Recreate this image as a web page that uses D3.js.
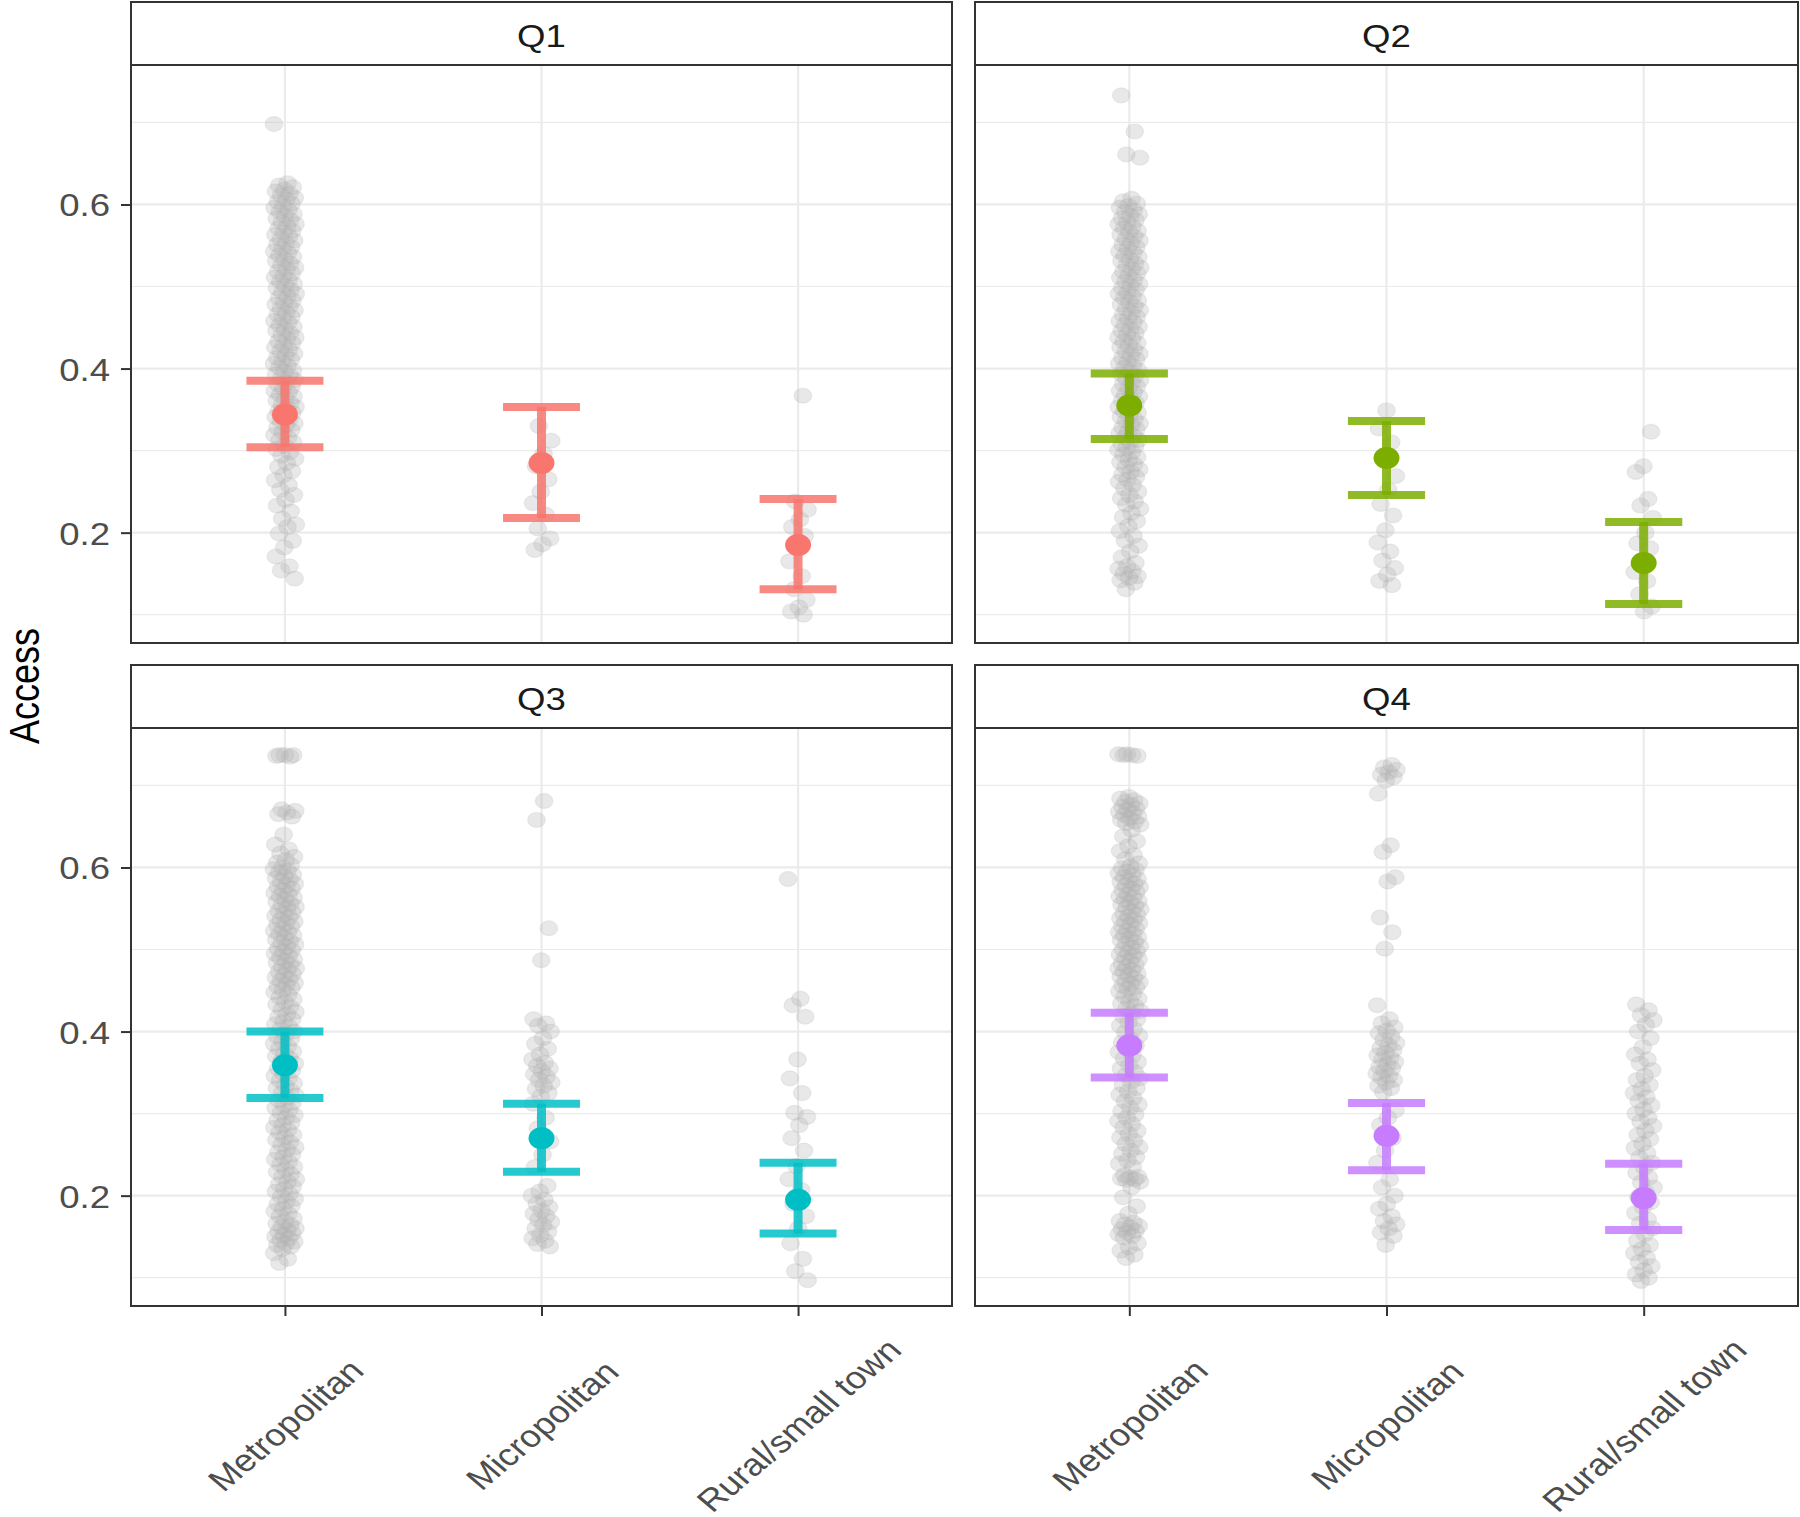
<!DOCTYPE html>
<html><head><meta charset="utf-8">
<script src="https://cdn.jsdelivr.net/npm/d3@7"></script>
<style>body{margin:0;background:#fff} svg{display:block}</style>
</head><body>
<script>
// ---------- data ----------
const facets = ["Q1", "Q2", "Q3", "Q4"];
const categories = ["Metropolitan", "Micropolitan", "Rural/small town"];
const facetColors = ["#F8766D", "#7CAE00", "#00BFC4", "#C77CFF"];
const yTickValues = [0.2, 0.4, 0.6];
const yMinorValues = [0.1, 0.3, 0.5, 0.7];
const yTickLabels = ["0.2", "0.4", "0.6"];
const yAxisTitle = "Access";

// mean and interval per facet (Metropolitan, Micropolitan, Rural/small town)
const meanQ1 = [0.344, 0.285, 0.185], lowerQ1 = [0.304, 0.218, 0.131], upperQ1 = [0.385, 0.353, 0.241];
const meanQ2 = [0.355, 0.291, 0.163], lowerQ2 = [0.314, 0.246, 0.113], upperQ2 = [0.394, 0.336, 0.213];
const meanQ3 = [0.359, 0.270, 0.195], lowerQ3 = [0.319, 0.229, 0.154], upperQ3 = [0.400, 0.312, 0.240];
const meanQ4 = [0.383, 0.273, 0.197], lowerQ4 = [0.344, 0.231, 0.158], upperQ4 = [0.423, 0.313, 0.239];

// raw observations (grey points)
const q1Metro = [0.698,0.626,0.623,0.621,0.618,0.616,0.613,0.611,0.608,0.606,0.603,0.601,0.598,0.596,0.593,0.591,0.588,0.586,0.583,0.581,0.578,0.576,0.573,0.571,0.568,0.566,0.563,0.561,0.558,0.556,0.553,0.551,0.548,0.546,0.543,0.541,0.538,0.536,0.533,0.531,0.528,0.526,0.523,0.521,0.518,0.516,0.513,0.511,0.508,0.506,0.503,0.501,0.498,0.496,0.493,0.491,0.488,0.486,0.483,0.481,0.478,0.476,0.473,0.471,0.468,0.466,0.463,0.461,0.458,0.456,0.453,0.451,0.448,0.446,0.443,0.441,0.438,0.436,0.433,0.431,0.428,0.426,0.423,0.421,0.418,0.416,0.413,0.411,0.408,0.406,0.403,0.401,0.398,0.396,0.393,0.391,0.388,0.386,0.383,0.381,0.378,0.376,0.373,0.371,0.368,0.366,0.363,0.361,0.358,0.356,0.353,0.351,0.348,0.346,0.343,0.341,0.338,0.336,0.333,0.331,0.328,0.325,0.322,0.319,0.316,0.313,0.31,0.306,0.302,0.298,0.294,0.29,0.285,0.28,0.275,0.27,0.264,0.258,0.252,0.246,0.24,0.233,0.226,0.217,0.21,0.207,0.199,0.19,0.182,0.171,0.159,0.154,0.144];
const q1Micro = [0.33,0.312,0.296,0.281,0.265,0.25,0.236,0.222,0.205,0.193,0.186,0.179];
const q1Rural = [0.367,0.238,0.228,0.216,0.207,0.196,0.181,0.165,0.147,0.131,0.118,0.109,0.104,0.1];

const q2Metro = [0.733,0.689,0.661,0.657,0.607,0.604,0.601,0.598,0.596,0.593,0.591,0.588,0.586,0.583,0.581,0.578,0.576,0.573,0.571,0.568,0.566,0.563,0.561,0.558,0.556,0.553,0.551,0.548,0.546,0.543,0.541,0.538,0.536,0.533,0.531,0.528,0.526,0.523,0.521,0.518,0.516,0.513,0.511,0.508,0.506,0.503,0.501,0.498,0.496,0.493,0.491,0.488,0.486,0.483,0.481,0.478,0.476,0.473,0.471,0.468,0.466,0.463,0.461,0.458,0.456,0.453,0.451,0.448,0.446,0.443,0.441,0.438,0.436,0.433,0.431,0.428,0.426,0.423,0.421,0.418,0.416,0.413,0.411,0.408,0.406,0.403,0.401,0.398,0.396,0.393,0.391,0.388,0.386,0.383,0.381,0.378,0.376,0.373,0.371,0.368,0.366,0.363,0.361,0.358,0.356,0.353,0.351,0.348,0.346,0.343,0.341,0.338,0.336,0.333,0.331,0.328,0.326,0.323,0.321,0.318,0.316,0.313,0.311,0.308,0.306,0.303,0.301,0.298,0.295,0.292,0.289,0.286,0.283,0.28,0.277,0.274,0.271,0.268,0.265,0.262,0.258,0.254,0.25,0.246,0.242,0.238,0.234,0.229,0.224,0.219,0.214,0.208,0.202,0.196,0.19,0.184,0.177,0.17,0.163,0.159,0.156,0.153,0.15,0.147,0.145,0.142,0.139,0.131];
const q2Micro = [0.349,0.327,0.31,0.292,0.269,0.252,0.235,0.221,0.203,0.188,0.177,0.166,0.157,0.149,0.141,0.136];
const q2Rural = [0.323,0.281,0.274,0.241,0.233,0.218,0.2,0.187,0.181,0.165,0.152,0.141,0.125,0.11,0.104];

const q3Metro = [0.737,0.737,0.737,0.736,0.735,0.671,0.669,0.667,0.665,0.662,0.64,0.628,0.622,0.617,0.613,0.609,0.606,0.603,0.6,0.598,0.596,0.594,0.591,0.589,0.587,0.585,0.583,0.58,0.578,0.576,0.574,0.572,0.569,0.567,0.565,0.563,0.561,0.558,0.556,0.554,0.552,0.55,0.547,0.545,0.543,0.541,0.539,0.536,0.534,0.532,0.53,0.528,0.525,0.523,0.521,0.519,0.517,0.514,0.512,0.51,0.508,0.506,0.503,0.501,0.499,0.497,0.495,0.492,0.49,0.488,0.486,0.484,0.481,0.479,0.477,0.475,0.473,0.47,0.468,0.466,0.464,0.462,0.459,0.457,0.455,0.453,0.451,0.448,0.445,0.442,0.439,0.436,0.433,0.43,0.427,0.424,0.421,0.418,0.415,0.412,0.409,0.406,0.403,0.4,0.397,0.394,0.391,0.388,0.385,0.382,0.379,0.376,0.373,0.37,0.367,0.364,0.361,0.358,0.355,0.352,0.349,0.346,0.343,0.34,0.337,0.334,0.331,0.328,0.325,0.322,0.319,0.316,0.313,0.31,0.307,0.304,0.301,0.298,0.295,0.292,0.289,0.286,0.283,0.28,0.277,0.274,0.271,0.268,0.265,0.262,0.259,0.256,0.253,0.25,0.247,0.244,0.241,0.238,0.235,0.232,0.229,0.226,0.223,0.22,0.217,0.214,0.211,0.208,0.205,0.202,0.199,0.196,0.193,0.19,0.187,0.184,0.181,0.178,0.175,0.172,0.169,0.166,0.164,0.162,0.16,0.158,0.156,0.154,0.152,0.15,0.148,0.146,0.144,0.142,0.14,0.138,0.135,0.13,0.123,0.118];
const q3Micro = [0.681,0.658,0.526,0.487,0.415,0.41,0.407,0.4,0.392,0.385,0.379,0.372,0.366,0.362,0.358,0.355,0.352,0.348,0.345,0.341,0.338,0.334,0.33,0.325,0.321,0.312,0.295,0.282,0.266,0.25,0.235,0.212,0.205,0.2,0.195,0.19,0.186,0.182,0.178,0.175,0.171,0.168,0.164,0.16,0.156,0.152,0.148,0.145,0.141,0.138];
const q3Rural = [0.586,0.44,0.432,0.418,0.366,0.343,0.325,0.301,0.296,0.286,0.27,0.255,0.236,0.22,0.207,0.19,0.175,0.16,0.142,0.123,0.108,0.097];

const q4Metro = [0.738,0.738,0.737,0.737,0.736,0.686,0.684,0.682,0.68,0.678,0.676,0.674,0.672,0.67,0.668,0.666,0.664,0.662,0.66,0.658,0.656,0.654,0.652,0.646,0.638,0.632,0.626,0.62,0.615,0.61,0.605,0.601,0.599,0.597,0.595,0.593,0.591,0.588,0.586,0.584,0.582,0.58,0.578,0.576,0.574,0.572,0.57,0.567,0.565,0.563,0.561,0.559,0.557,0.555,0.553,0.551,0.549,0.546,0.544,0.542,0.54,0.538,0.536,0.534,0.532,0.53,0.528,0.525,0.523,0.521,0.519,0.517,0.515,0.513,0.511,0.509,0.507,0.504,0.502,0.5,0.498,0.496,0.494,0.492,0.49,0.488,0.486,0.483,0.481,0.479,0.477,0.475,0.473,0.471,0.469,0.467,0.465,0.462,0.46,0.458,0.456,0.454,0.452,0.449,0.446,0.443,0.44,0.437,0.434,0.431,0.428,0.425,0.422,0.419,0.415,0.411,0.407,0.403,0.399,0.395,0.391,0.387,0.383,0.379,0.375,0.371,0.367,0.363,0.359,0.355,0.351,0.347,0.343,0.339,0.335,0.331,0.327,0.323,0.319,0.315,0.311,0.307,0.303,0.299,0.295,0.291,0.287,0.283,0.279,0.275,0.271,0.267,0.263,0.259,0.255,0.251,0.247,0.243,0.239,0.235,0.225,0.223,0.222,0.221,0.22,0.219,0.217,0.21,0.198,0.187,0.178,0.169,0.167,0.165,0.163,0.161,0.159,0.157,0.155,0.153,0.151,0.149,0.142,0.137,0.133,0.128,0.124];
const q4Micro = [0.725,0.722,0.719,0.716,0.713,0.71,0.706,0.69,0.627,0.619,0.588,0.583,0.539,0.521,0.501,0.432,0.415,0.41,0.405,0.401,0.398,0.394,0.39,0.386,0.383,0.38,0.377,0.374,0.371,0.368,0.366,0.363,0.36,0.357,0.355,0.352,0.349,0.346,0.344,0.341,0.338,0.334,0.331,0.326,0.304,0.295,0.286,0.27,0.255,0.24,0.22,0.21,0.2,0.19,0.184,0.175,0.169,0.165,0.16,0.155,0.151,0.14];
const q4Rural = [0.433,0.426,0.42,0.414,0.408,0.4,0.392,0.381,0.372,0.366,0.361,0.353,0.346,0.341,0.335,0.33,0.325,0.32,0.315,0.31,0.305,0.3,0.295,0.29,0.285,0.279,0.274,0.269,0.263,0.258,0.252,0.246,0.24,0.234,0.228,0.222,0.216,0.21,0.204,0.198,0.192,0.186,0.179,0.171,0.166,0.16,0.153,0.145,0.14,0.135,0.13,0.124,0.119,0.114,0.109,0.104,0.1,0.096];

const pointsByFacet = [[q1Metro,q1Micro,q1Rural],[q2Metro,q2Micro,q2Rural],[q3Metro,q3Micro,q3Rural],[q4Metro,q4Micro,q4Rural]];
const meansByFacet = [meanQ1, meanQ2, meanQ3, meanQ4];
const lowerByFacet = [lowerQ1, lowerQ2, lowerQ3, lowerQ4];
const upperByFacet = [upperQ1, upperQ2, upperQ3, upperQ4];

// ---------- layout ----------
const SX = 1.18; // horizontal stretch of the original picture
const FONT = "'Liberation Sans', Arial, Helvetica, sans-serif";
const colX = [[131, 952], [975, 1798]];
const rowY = [{strip: [2, 65], panel: [65, 643]}, {strip: [665, 728], panel: [728, 1306]}];
const yDomain = [0.0655, 0.770];

const svg = d3.select("body").append("svg").attr("width", 1800).attr("height", 1517)
  .style("font-family", FONT);
svg.append("rect").attr("width", 1800).attr("height", 1517).attr("fill", "#fff");

facets.forEach((facet, k) => {
  const c = k % 2, r = Math.floor(k / 2);
  const [x0, x1] = colX[c];
  const [py0, py1] = rowY[r].panel;
  const [sy0, sy1] = rowY[r].strip;
  const x = d3.scalePoint().domain(categories).range([x0, x1]).padding(0.6);
  const y = d3.scaleLinear().domain(yDomain).range([py1, py0]);
  const step = x.step();
  const g = svg.append("g");

  // panel background
  g.append("rect").attr("x", x0).attr("y", py0).attr("width", x1 - x0).attr("height", py1 - py0).attr("fill", "#fff");

  // grid
  g.selectAll(".minor").data(yMinorValues).join("line")
    .attr("x1", x0).attr("x2", x1).attr("y1", d => y(d)).attr("y2", d => y(d))
    .attr("stroke", "#EBEBEB").attr("stroke-width", 1.2);
  g.selectAll(".major").data(yTickValues).join("line")
    .attr("x1", x0).attr("x2", x1).attr("y1", d => y(d)).attr("y2", d => y(d))
    .attr("stroke", "#EBEBEB").attr("stroke-width", 2.2);
  g.selectAll(".vmajor").data(categories).join("line")
    .attr("x1", d => x(d)).attr("x2", d => x(d)).attr("y1", py0).attr("y2", py1)
    .attr("stroke", "#EBEBEB").attr("stroke-width", 2.2);

  // jittered raw points
  categories.forEach((cat, ci) => {
    const vals = pointsByFacet[k][ci];
    const jit = ci === 0 ? 11 : 10;
    g.append("g").selectAll("ellipse").data(vals).join("ellipse")
      .attr("cx", (d, i) => x(cat) + (((i * 0.6180339887 + ci * 0.37 + k * 0.13) % 1) - 0.5) * 2 * jit)
      .attr("cy", d => y(d))
      .attr("rx", 7.5 * SX).attr("ry", 7.5)
      .attr("fill", "#B2B2B2").attr("fill-opacity", 0.3)
      .attr("stroke", "#B2B2B2").attr("stroke-opacity", 0.18).attr("stroke-width", 1.3);
  });

  // error bars
  const col = facetColors[k];
  const capW = 0.3 * step;
  const eb = g.append("g").attr("stroke", col).attr("stroke-opacity", 0.85).attr("stroke-width", 8);
  categories.forEach((cat, ci) => {
    const cx = x(cat);
    const lo = y(lowerByFacet[k][ci]), hi = y(upperByFacet[k][ci]);
    eb.append("line").attr("x1", cx).attr("x2", cx).attr("y1", lo).attr("y2", hi).attr("stroke-width", 9);
    eb.append("line").attr("x1", cx - capW / 2).attr("x2", cx + capW / 2).attr("y1", hi).attr("y2", hi);
    eb.append("line").attr("x1", cx - capW / 2).attr("x2", cx + capW / 2).attr("y1", lo).attr("y2", lo);
  });
  g.selectAll(".mean").data(categories).join("ellipse")
    .attr("cx", d => x(d)).attr("cy", (d, i) => y(meansByFacet[k][i]))
    .attr("rx", 11 * SX).attr("ry", 11).attr("fill", col);

  // panel border
  g.append("rect").attr("x", x0).attr("y", py0).attr("width", x1 - x0).attr("height", py1 - py0)
    .attr("fill", "none").attr("stroke", "#333").attr("stroke-width", 2);

  // strip
  g.append("rect").attr("x", x0).attr("y", sy0).attr("width", x1 - x0).attr("height", sy1 - sy0)
    .attr("fill", "#fff").attr("stroke", "#333").attr("stroke-width", 2);
  g.append("text").attr("transform", `translate(${(x0 + x1) / 2},${sy0 + 45}) scale(${SX},1)`)
    .attr("text-anchor", "middle").attr("font-size", 31).attr("fill", "#1A1A1A").text(facet);

  // y axis (left column only)
  if (c === 0) {
    const ay = g.append("g").attr("transform", `translate(${x0},0)`)
      .call(d3.axisLeft(y).tickValues(yTickValues).tickFormat((d, i) => yTickLabels[i]).tickSize(10).tickPadding(0));
    ay.select(".domain").remove();
    ay.selectAll(".tick line").attr("stroke", "#333").attr("stroke-width", 2);
    ay.selectAll(".tick text").attr("x", 0).attr("dy", null).attr("y", 0)
      .attr("transform", `translate(-21,11.5) scale(${SX},1)`)
      .attr("font-size", 31).attr("fill", "#4D4D4D").attr("font-family", FONT).attr("text-anchor", "end");
  }
  // x axis (bottom row only)
  if (r === 1) {
    const ax = g.append("g").attr("transform", `translate(0,${py1})`)
      .call(d3.axisBottom(x).tickSize(10).tickPadding(0));
    ax.select(".domain").remove();
    ax.selectAll(".tick line").attr("stroke", "#333").attr("stroke-width", 2);
    ax.selectAll(".tick text").attr("x", 0).attr("y", 0).attr("dy", null)
      .attr("transform", `translate(0,119) scale(${SX},1) rotate(-45)`)
      .attr("text-anchor", "middle").attr("dominant-baseline", "central")
      .attr("font-size", 31).attr("fill", "#4D4D4D").attr("font-family", FONT);
  }
});

// y axis title (baseline on the right side after rotation)
svg.append("text").attr("transform", `translate(39,686) scale(${SX},1) rotate(-90)`)
  .attr("text-anchor", "middle")
  .attr("font-size", 36).attr("fill", "#000").text(yAxisTitle);
</script>
</body></html>
